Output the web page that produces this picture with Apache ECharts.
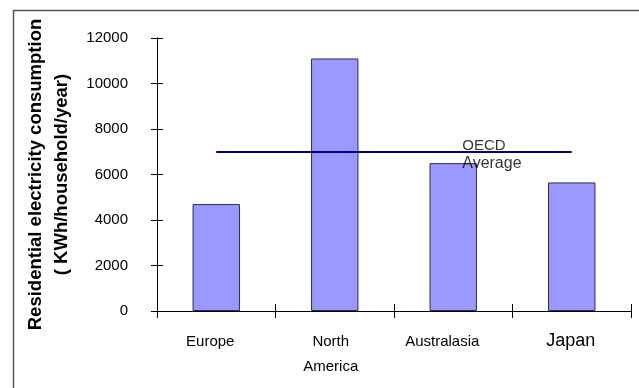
<!DOCTYPE html>
<html>
<head>
<meta charset="utf-8">
<script src="https://cdn.jsdelivr.net/npm/echarts@6/dist/echarts.min.js"></script>
<style>
  html, body { margin: 0; padding: 0; background: #fff; }
  #chart { width: 639px; height: 388px; }
</style>
</head>
<body>
<div id="chart"></div>
<script>
// Residential electricity consumption by region
const regions = ['Europe', 'North\nAmerica', 'Australasia', 'Japan'];
const consumption = [4700, 11100, 6500, 5650];
const oecdAverage = 7000;
const yTicks = [0, 2000, 4000, 6000, 8000, 10000, 12000];

const FONT = '"Liberation Sans", Arial, sans-serif';

// per-category label tweaks (Japan is set larger)
const labelStyle = {
  'Europe': { padding: [0, 12, 0, 0] },
  'North\nAmerica': { padding: [0, 8, 0, 0] },
  'Australasia': { padding: [0, 22, 0, 0] },
  'Japan': { fontSize: 18, padding: [0, 2, 0, 0] }
};

const chart = echarts.init(document.getElementById('chart'), null, { renderer: 'canvas' });

const catAxisBase = {
  type: 'category',
  data: regions.map(r => ({ value: r, textStyle: labelStyle[r] })),
  boundaryGap: true,
  axisLine: { show: true, lineStyle: { color: '#000', width: 1 } },
  splitLine: { show: false }
};
const valAxisBase = {
  type: 'value',
  min: yTicks[0],
  max: yTicks[yTicks.length - 1],
  interval: 2000,
  axisLine: { show: true, lineStyle: { color: '#000', width: 1 } },
  splitLine: { show: false }
};

chart.setOption({
  animation: false,
  backgroundColor: '#fff',
  textStyle: { fontFamily: FONT },
  graphic: [{
    type: 'rect',
    z: -10,
    silent: true,
    shape: { x: 13.5, y: 10.5, width: 700, height: 500 },
    style: { fill: 'none', stroke: '#555', lineWidth: 1.5 }
  }],
  grid: {
    left: 157, top: 38, right: 8, bottom: 77,
    containLabel: false, outerBoundsMode: 'none'
  },
  xAxis: [
    Object.assign({}, catAxisBase, {
      axisTick: { show: true, length: 7, inside: false, lineStyle: { color: '#000' } },
      axisLabel: {
        show: true, color: '#000', fontFamily: FONT, fontSize: 15,
        margin: 18, lineHeight: 25, interval: 0
      }
    }),
    Object.assign({}, catAxisBase, {
      position: 'bottom',
      axisTick: { show: true, length: 7, inside: true, lineStyle: { color: '#000' } },
      axisLabel: { show: false }
    })
  ],
  yAxis: [
    Object.assign({}, valAxisBase, {
      axisTick: { show: true, length: 6, inside: false, lineStyle: { color: '#000' } },
      axisLabel: {
        show: true, color: '#000', fontFamily: FONT, fontSize: 15, margin: 29,
        formatter: v => String(v)
      },
      name: 'Residential electricity consumption\n( KWh/household/year)',
      nameLocation: 'middle',
      nameRotate: 90,
      nameGap: 77,
      nameTextStyle: {
        color: '#000', fontFamily: FONT, fontSize: 18.5, fontWeight: 'bold',
        lineHeight: 26.5, align: 'center'
      }
    }),
    Object.assign({}, valAxisBase, {
      position: 'left',
      axisTick: { show: true, length: 6, inside: true, lineStyle: { color: '#000' } },
      axisLabel: { show: false }
    })
  ],
  series: [
    {
      type: 'bar',
      data: consumption,
      barWidth: '40%',
      itemStyle: { color: '#9999FF', borderColor: '#2a2a5a', borderWidth: 1 },
      markLine: {
        silent: true,
        symbol: 'none',
        label: { show: false },
        lineStyle: { color: '#000080', width: 2, type: 'solid' },
        data: [[
          { coord: [regions[0], oecdAverage] },
          { coord: [regions[regions.length - 1], oecdAverage] }
        ]]
      }
    },
    {
      type: 'scatter',
      symbolSize: 0,
      silent: true,
      data: [[regions[2], oecdAverage]],
      label: {
        show: true,
        position: 'right',
        distance: 9,
        offset: [0, 3],
        formatter: '{a|OECD}\n{b|Average}',
        color: '#000',
        fontFamily: FONT,
        align: 'left',
        rich: {
          a: { fontSize: 15, lineHeight: 18, color: '#000', fontFamily: FONT },
          b: { fontSize: 16, lineHeight: 18, color: '#000', fontFamily: FONT }
        }
      }
    }
  ]
});
</script>
</body>
</html>
